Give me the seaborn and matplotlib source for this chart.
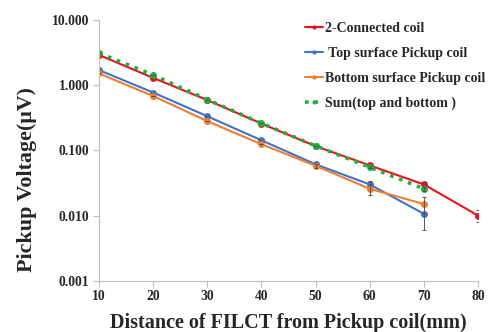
import matplotlib
matplotlib.use("Agg")
import matplotlib.pyplot as plt
import seaborn as sns
import pandas as pd
import numpy as np
from matplotlib.ticker import FixedLocator, FuncFormatter

distance_red = [10, 20, 30, 40, 50, 60, 70, 80]
connected = [2.9, 1.29, 0.59, 0.257, 0.116, 0.0587, 0.030, 0.010]
connected_err = [0, 0, 0, 0, 0, 0.002, 0.003, 0.002]

distance = [10, 20, 30, 40, 50, 60, 70]
top = [1.70, 0.77, 0.333, 0.1425, 0.061, 0.030, 0.0106]
top_err = [0, 0, 0, 0, 0.004, 0.004, 0.0045]
bottom = [1.51, 0.68, 0.28, 0.124, 0.058, 0.0257, 0.015]
bottom_err = [0, 0, 0, 0, 0.004, 0.005, 0.004]
total = [3.1, 1.43, 0.60, 0.26, 0.117, 0.055, 0.0257]
total_err = [0, 0, 0, 0, 0, 0.002, 0.002]

labels = ["2-Connected coil", " Top surface Pickup coil", "Bottom surface Pickup coil", "Sum(top and bottom )"]
colors = ["#e8141c", "#4472c4", "#ed7d31", "#1fae3c"]

x_ticks = [10, 20, 30, 40, 50, 60, 70, 80]
y_ticks = [0.001, 0.01, 0.1, 1, 10]

sns.set_style("white")
plt.rcParams["font.family"] = ["Liberation Serif", "DejaVu Serif"]
plt.rcParams["font.weight"] = "bold"

fig = plt.figure(figsize=(4.89, 3.32), dpi=100)
ax = fig.add_axes([0.2025, 0.1545, 0.775, 0.7855])

series = [
    (distance_red, connected, connected_err, labels[0], colors[0], "-"),
    (distance, top, top_err, labels[1], colors[1], "-"),
    (distance, bottom, bottom_err, labels[2], colors[2], "-"),
    (distance, total, total_err, labels[3], colors[3], ":"),
]

for xs, ys, es, lab, col, ls in series:
    df = pd.DataFrame({"x": xs, "y": ys})
    lw = 2.6 if ls == ":" else 1.5
    sns.lineplot(data=df, x="x", y="y", ax=ax, color=col, linestyle=ls, linewidth=lw,
                 marker="o", markersize=5, markeredgewidth=0, label=lab)
    ax.errorbar(xs, ys, yerr=es, fmt="none", ecolor="#555555", elinewidth=0.7, capsize=1.5, capthick=0.7)

ax.set_yscale("log")
ax.set_ylim(0.001, 10)
ax.set_xlim(10, 80)
ax.yaxis.set_major_locator(FixedLocator(y_ticks))
ax.yaxis.set_minor_locator(FixedLocator([]))
ax.yaxis.set_major_formatter(FuncFormatter(lambda v, p: f"{v:.3f}"))
ax.xaxis.set_major_locator(FixedLocator(x_ticks))

for s in ["top", "right"]:
    ax.spines[s].set_visible(False)
for s in ["left", "bottom"]:
    ax.spines[s].set_color("#bfbfbf")
    ax.spines[s].set_linewidth(0.8)
ax.tick_params(axis="both", which="major", length=4, width=0.8, color="#bfbfbf",
               labelsize=9.8, pad=3, direction="out", left=True, bottom=True)
for t in ax.get_xticklabels() + ax.get_yticklabels():
    t.set_fontweight("bold")

ax.set_xlabel("Distance of FILCT from Pickup coil(mm)", fontsize=14.5, fontweight="bold", labelpad=7)
ax.set_ylabel("Pickup Voltage(μV)", fontsize=15.8, fontweight="bold", va="center")
ax.yaxis.set_label_coords(-0.191, 0.387)

leg = ax.legend(loc="upper left", bbox_to_anchor=(0.528, 1.013), frameon=False,
                prop={"family": ["Liberation Serif"], "weight": "bold", "size": 10},
                handlelength=1.3, handletextpad=0.15, labelspacing=0.85, borderaxespad=0)
for h in leg.legend_handles:
    h.set_markersize(3)

fig.savefig("out.png", dpi=100)
